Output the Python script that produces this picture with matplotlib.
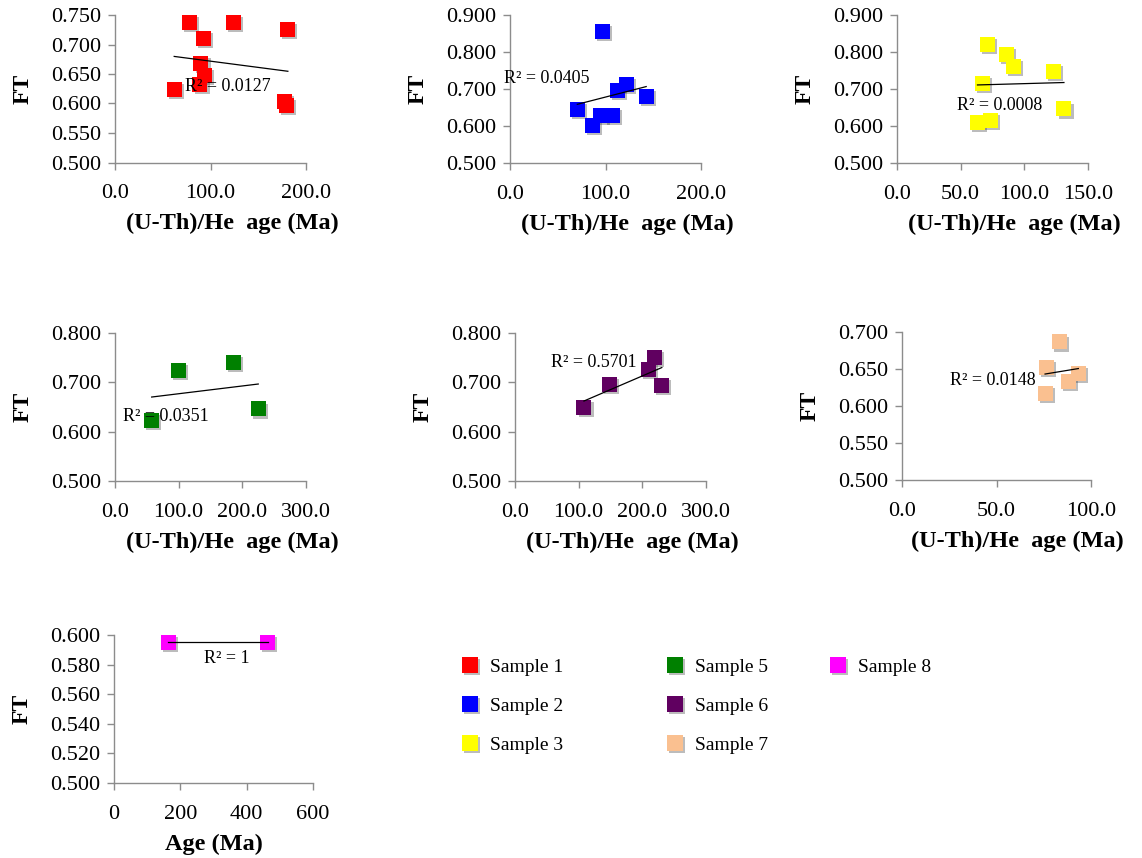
import numpy as np
import matplotlib
matplotlib.use("Agg")
import matplotlib.pyplot as plt
import matplotlib.patheffects as pe
from matplotlib.lines import Line2D
from matplotlib.ticker import FormatStrFormatter, MultipleLocator

plt.rcParams["font.family"] = ["Liberation Serif", "DejaVu Serif"]

# ---- data: (U-Th)/He age (Ma) vs FT for each sample ----
s1_age = [78, 124, 181, 93, 90, 94, 89, 62, 177, 180]
s1_ft = [0.737, 0.737, 0.726, 0.710, 0.668, 0.648, 0.632, 0.624, 0.604, 0.596]

s2_age = [96.5, 70.5, 86.2, 94.9, 107.1, 112.3, 121.9, 142.6]
s2_ft = [0.855, 0.645, 0.602, 0.628, 0.628, 0.696, 0.712, 0.681]

s3_age = [71.0, 86.1, 91.8, 123.2, 67.1, 131.1, 63.2, 73.6]
s3_ft = [0.821, 0.793, 0.761, 0.747, 0.715, 0.646, 0.609, 0.615]

s5_age = [99.5, 185.9, 225.0, 57.6]
s5_ft = [0.724, 0.741, 0.646, 0.623]

s6_age = [108.3, 148.0, 209.7, 218.8, 230.6]
s6_ft = [0.650, 0.696, 0.727, 0.751, 0.694]

s7_age = [83.1, 76.6, 75.7, 88.0, 93.3]
s7_ft = [0.6865, 0.6515, 0.617, 0.633, 0.644]

s8_age = [164, 463]
s8_ft = [0.595, 0.595]

sample_names = ["Sample 1", "Sample 2", "Sample 3", "Sample 5",
                "Sample 6", "Sample 7", "Sample 8"]
r2_labels = ["R² = 0.0127", "R² = 0.0405", "R² = 0.0008", "R² = 0.0351",
             "R² = 0.5701", "R² = 0.0148", "R² = 1"]

# ---- styling / layout ----
colors = ["#FF0000", "#0000FF", "#FFFF00", "#008000",
          "#600060", "#FAC090", "#FF00FF"]
W, H = 1142, 858
# axes boxes in pixels: left, right, top, bottom
boxes = [(115, 306, 15, 162.5), (510, 701, 15, 163), (897, 1088, 15, 163),
         (115, 306, 333, 481), (515, 706, 333, 481), (902, 1091, 332, 480),
         (114, 313, 635, 783)]
xlims = [(0, 200), (0, 200), (0, 150), (0, 300), (0, 300), (0, 100), (0, 600)]
xsteps = [100, 100, 50, 100, 100, 50, 200]
xfmts = ["%.1f"] * 6 + ["%d"]
ylims = [(0.5, 0.75), (0.5, 0.9), (0.5, 0.9), (0.5, 0.8), (0.5, 0.8),
         (0.5, 0.7), (0.5, 0.6)]
ysteps = [0.05, 0.1, 0.1, 0.1, 0.1, 0.05, 0.02]
xlabels = ["(U-Th)/He  age (Ma)"] * 6 + ["Age (Ma)"]
xlabel_x = [0.612] * 6 + [0.5]
r2_pos = [(73.3, 0.628), (-6.3, 0.729), (47.1, 0.6546), (13, 0.630),
          (56.7, 0.741), (25.5, 0.634), (270, 0.5843)]

ages = [s1_age, s2_age, s3_age, s5_age, s6_age, s7_age, s8_age]
fts = [s1_ft, s2_ft, s3_ft, s5_ft, s6_ft, s7_ft, s8_ft]

axis_gray = "#8C8C8C"
shadow = [pe.SimplePatchShadow(offset=(1.5, -1.5), shadow_rgbFace="#404040",
                               alpha=0.35), pe.Normal()]

fig = plt.figure(figsize=(W / 100, H / 100), dpi=100)

for i in range(7):
    l, r, t, b = boxes[i]
    ax = fig.add_axes([l / W, 1 - b / H, (r - l) / W, (b - t) / H])
    x = np.asarray(ages[i], dtype=float)
    y = np.asarray(fts[i], dtype=float)

    ax.plot(x, y, linestyle="none", marker="s", markersize=10.8,
            markerfacecolor=colors[i], markeredgewidth=0, zorder=2,
            path_effects=shadow, clip_on=False)

    # linear trendline across the data range
    k, c = np.polyfit(x, y, 1)
    xs = np.array([x.min(), x.max()])
    ax.plot(xs, k * xs + c, color="black", lw=0.9, zorder=3)

    ax.text(r2_pos[i][0], r2_pos[i][1], r2_labels[i], fontsize=13,
            ha="left", va="center", zorder=4, clip_on=False)

    ax.set_xlim(*xlims[i])
    ax.set_ylim(*ylims[i])
    ax.xaxis.set_major_locator(MultipleLocator(xsteps[i]))
    ax.yaxis.set_major_locator(MultipleLocator(ysteps[i]))
    ax.xaxis.set_major_formatter(FormatStrFormatter(xfmts[i]))
    ax.yaxis.set_major_formatter(FormatStrFormatter("%.3f"))

    for side in ("top", "right"):
        ax.spines[side].set_visible(False)
    for side in ("left", "bottom"):
        ax.spines[side].set_color(axis_gray)
        ax.spines[side].set_linewidth(1.0)
    ax.tick_params(axis="both", direction="out", length=5, width=1.0,
                   color=axis_gray, labelsize=16, labelcolor="black")
    ax.tick_params(axis="y", pad=5)
    ax.tick_params(axis="x", pad=10.5)

    ax.set_xlabel(xlabels[i], fontsize=17.5, fontweight="bold", va="center")
    ax.xaxis.set_label_coords(xlabel_x[i], -61 / (b - t))
    ax.set_ylabel("FT", fontsize=17, fontweight="bold", va="center")
    ax.yaxis.set_label_coords(-92 / (r - l), 0.5)

# legend in three columns
columns = [[0, 1, 2], [3, 4, 5], [6]]
col_x = [460.5, 665.5, 828.5]
for col, cx in zip(columns, col_x):
    handles = [Line2D([], [], linestyle="none", marker="s", markersize=11.5,
                      markerfacecolor=colors[j], markeredgewidth=0,
                      path_effects=shadow) for j in col]
    fig.legend(handles, [sample_names[j] for j in col], loc="upper left",
               bbox_to_anchor=(cx / W, 1 - 658 / H), frameon=False,
               fontsize=14, borderpad=0, borderaxespad=0, handlelength=1.0,
               handletextpad=0.5, labelspacing=1.1)

fig.savefig("out.png", dpi=100)
